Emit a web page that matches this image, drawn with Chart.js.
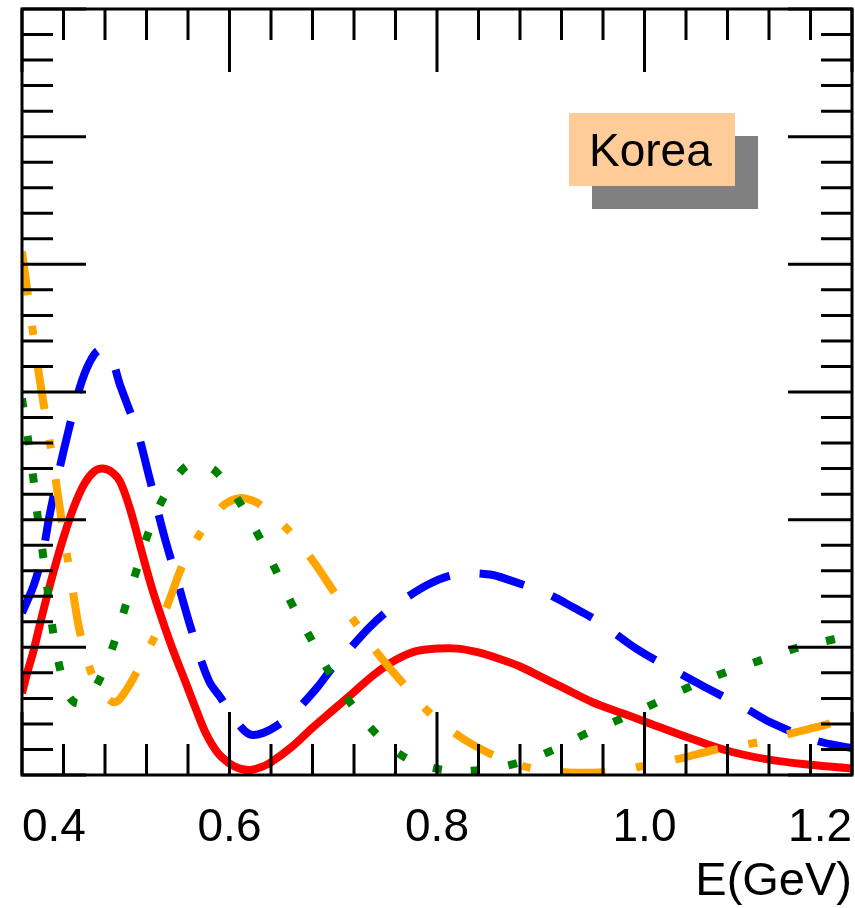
<!DOCTYPE html>
<html>
<head>
<meta charset="utf-8">
<title>Korea</title>
<script src="https://cdn.jsdelivr.net/npm/chart.js@4.4.1/dist/chart.umd.min.js"></script>
<style>
  html, body { margin: 0; padding: 0; background: #fff; }
  #wrap { width: 855px; height: 908px; }
</style>
</head>
<body>
<div id="wrap"><canvas id="chart" width="855" height="908"></canvas></div>
<script>
// energy axis, E in GeV
const xMajor = [0.4, 0.6, 0.8, 1.0, 1.2];
const xLabels = ['0.4', '0.6', '0.8', '1.0', '1.2'];

// red, solid
const redX = [0.400, 0.405, 0.411, 0.420, 0.430, 0.440, 0.450, 0.460, 0.470, 0.478, 0.487, 0.495,
  0.505, 0.515, 0.525, 0.535, 0.545, 0.557, 0.567, 0.577, 0.588, 0.600, 0.610, 0.620, 0.630,
  0.640, 0.660, 0.680, 0.700, 0.720, 0.740, 0.760, 0.780, 0.800, 0.820, 0.840, 0.860, 0.880,
  0.900, 0.920, 0.950, 0.980, 1.000, 1.040, 1.080, 1.120, 1.160, 1.200];
const redY = [0.64, 0.80, 0.97, 1.27, 1.58, 1.86, 2.10, 2.28, 2.38, 2.40, 2.37, 2.29,
  2.06, 1.76, 1.47, 1.22, 0.99, 0.74, 0.53, 0.33, 0.18, 0.09, 0.05, 0.04, 0.06,
  0.10, 0.22, 0.37, 0.51, 0.65, 0.79, 0.90, 0.97, 0.99, 0.99, 0.96, 0.91, 0.85,
  0.77, 0.69, 0.57, 0.48, 0.42, 0.30, 0.19, 0.12, 0.08, 0.05];

// blue, dashed
const blueX = [0.400, 0.4115, 0.420, 0.4265, 0.434, 0.444, 0.4555, 0.465, 0.4747, 0.485,
  0.4947, 0.503, 0.511, 0.5234, 0.5368, 0.549, 0.5636, 0.580, 0.592, 0.604, 0.619, 0.6325,
  0.650, 0.666, 0.685, 0.700, 0.715, 0.734, 0.750, 0.767, 0.791, 0.812, 0.833, 0.851, 0.865,
  0.906, 0.932, 0.956, 0.992, 1.033, 1.058, 1.098, 1.122, 1.165, 1.200];
const blueY = [1.27, 1.49, 1.74, 2.03, 2.32, 2.67, 3.03, 3.23, 3.33, 3.28,
  3.05, 2.87, 2.70, 2.31, 1.88, 1.54, 1.13, 0.74, 0.60, 0.45, 0.32, 0.33,
  0.41, 0.52, 0.69, 0.85, 0.98, 1.15, 1.27, 1.37, 1.49, 1.56, 1.58, 1.57, 1.54,
  1.42, 1.31, 1.20, 0.99, 0.80, 0.69, 0.52, 0.41, 0.27, 0.21];

// orange, dash-dot
const orangeX = [0.400, 0.405, 0.410, 0.415, 0.420, 0.425, 0.430, 0.435, 0.440, 0.445, 0.450,
  0.455, 0.462, 0.470, 0.480, 0.490, 0.500, 0.510, 0.520, 0.530, 0.542, 0.554, 0.565, 0.575,
  0.587, 0.597, 0.611, 0.622, 0.631, 0.645, 0.662, 0.682, 0.701, 0.726, 0.745, 0.767, 0.795,
  0.824, 0.853, 0.875, 0.894, 0.927, 0.956, 0.980, 1.004, 1.035, 1.069, 1.112, 1.143, 1.173, 1.200];
const orangeY = [4.10, 3.80, 3.50, 3.21, 2.95, 2.70, 2.45, 2.17, 1.90, 1.64, 1.39,
  1.15, 0.92, 0.74, 0.62, 0.57, 0.66, 0.80, 0.96, 1.12, 1.37, 1.63, 1.80, 1.93,
  2.05, 2.13, 2.17, 2.15, 2.11, 2.01, 1.87, 1.66, 1.43, 1.14, 0.93, 0.72, 0.47,
  0.29, 0.16, 0.09, 0.05, 0.02, 0.02, 0.04, 0.08, 0.13, 0.20, 0.26, 0.33, 0.39, 0.46];

// green, dotted
const greenX = [0.400, 0.406, 0.411, 0.415, 0.420, 0.425, 0.430, 0.437, 0.445, 0.454,
  0.465, 0.476, 0.489, 0.500, 0.511, 0.522, 0.537, 0.557, 0.573, 0.589, 0.611, 0.629, 0.646,
  0.662, 0.679, 0.698, 0.719, 0.743, 0.771, 0.806, 0.843, 0.880, 0.913, 0.945, 0.980, 1.012,
  1.046, 1.080, 1.116, 1.149, 1.186, 1.200];
const greenY = [2.95, 2.62, 2.32, 2.03, 1.74, 1.43, 1.12, 0.82, 0.62, 0.56,
  0.62, 0.77, 1.04, 1.33, 1.62, 1.90, 2.18, 2.41, 2.44, 2.36, 2.12, 1.86, 1.58,
  1.31, 1.06, 0.78, 0.54, 0.31, 0.13, 0.04, 0.04, 0.10, 0.20, 0.33, 0.45, 0.57,
  0.70, 0.81, 0.91, 1.00, 1.07, 1.10];

const pts = (xs, ys) => xs.map((v, i) => ({ x: v, y: ys[i] }));

// minor ticks every 0.04 on x, 0.2 on y
const xTicks = [];
for (let i = 0; i <= 20; i++) xTicks.push(+(0.4 + 0.04 * i).toFixed(2));
const yTicks = [];
for (let i = 0; i <= 30; i++) yTicks.push(+(0.2 * i).toFixed(1));
const isMajorX = v => xMajor.some(m => Math.abs(m - v) < 1e-6);
const isMajorY = v => Math.abs(v - Math.round(v)) < 1e-6;

const rootFrame = {
  id: 'rootFrame',
  afterDatasetsDraw(chart) {
    const { ctx, chartArea: a, scales: { x, y } } = chart;
    ctx.save();
    ctx.strokeStyle = '#000';
    ctx.lineWidth = 3;
    ctx.beginPath();
    xTicks.forEach(v => {
      const px = x.getPixelForValue(v);
      const len = isMajorX(v) ? 63 : 31;
      ctx.moveTo(px, a.bottom); ctx.lineTo(px, a.bottom - len);
      ctx.moveTo(px, a.top); ctx.lineTo(px, a.top + len);
    });
    yTicks.forEach(v => {
      const py = y.getPixelForValue(v);
      const len = isMajorY(v) ? 64 : 31;
      ctx.moveTo(a.left, py); ctx.lineTo(a.left + len, py);
      ctx.moveTo(a.right, py); ctx.lineTo(a.right - len, py);
    });
    ctx.stroke();
    ctx.strokeRect(a.left, a.top, a.right - a.left, a.bottom - a.top);
    ctx.restore();
  },
  afterDraw(chart) {
    const ctx = chart.ctx;
    ctx.save();
    ctx.fillStyle = '#808080';
    ctx.fillRect(592, 136, 166, 73);
    ctx.fillStyle = '#ffcc99';
    ctx.fillRect(569, 113, 166, 73);
    ctx.fillStyle = '#000';
    ctx.font = '46px "Liberation Sans", Arial, sans-serif';
    ctx.textBaseline = 'alphabetic';
    ctx.fillText('Korea', 589, 166);
    ctx.restore();
  }
};

const line = (label, xs, ys, color, dash, order) => ({
  label: label,
  data: pts(xs, ys),
  borderColor: color,
  borderWidth: 8,
  borderDash: dash,
  borderCapStyle: 'butt',
  pointRadius: 0,
  fill: false,
  tension: 0.35,
  order: order
});

new Chart(document.getElementById('chart'), {
  type: 'line',
  data: {
    datasets: [
      line('red', redX, redY, '#ff0000', [], 4),
      line('blue', blueX, blueY, '#0000ff', [46, 30], 3),
      line('orange', orangeX, orangeY, '#ffa500', [44, 31, 9, 31], 2),
      line('green', greenX, greenY, '#008000', [9, 29], 1)
    ]
  },
  options: {
    responsive: false,
    animation: false,
    layout: { padding: { left: 22, right: 3, top: 9, bottom: 0 } },
    plugins: { legend: { display: false }, tooltip: { enabled: false } },
    scales: {
      x: {
        type: 'linear',
        min: 0.4,
        max: 1.2,
        afterBuildTicks: s => { s.ticks = xTicks.map(v => ({ value: v })); },
        afterFit: s => {
          s.height = 133;
          s.paddingLeft = 0;
          s.paddingRight = 0;
        },
        grid: { display: false, drawTicks: false },
        border: { display: false },
        ticks: {
          autoSkip: false,
          maxRotation: 0,
          align: 'inner',
          padding: 26,
          color: '#000',
          font: { family: '"Liberation Sans", Arial, sans-serif', size: 46, lineHeight: 1.2 },
          callback: v => {
            const i = xMajor.findIndex(m => Math.abs(m - v) < 1e-6);
            return i >= 0 ? xLabels[i] : '';
          }
        },
        title: {
          display: true,
          text: 'E(GeV)',
          align: 'end',
          color: '#000',
          padding: 0,
          font: { family: '"Liberation Sans", Arial, sans-serif', size: 47, lineHeight: 1.1 }
        }
      },
      y: {
        type: 'linear',
        display: false,
        min: 0,
        max: 6
      }
    }
  },
  plugins: [rootFrame]
});
</script>
</body>
</html>
